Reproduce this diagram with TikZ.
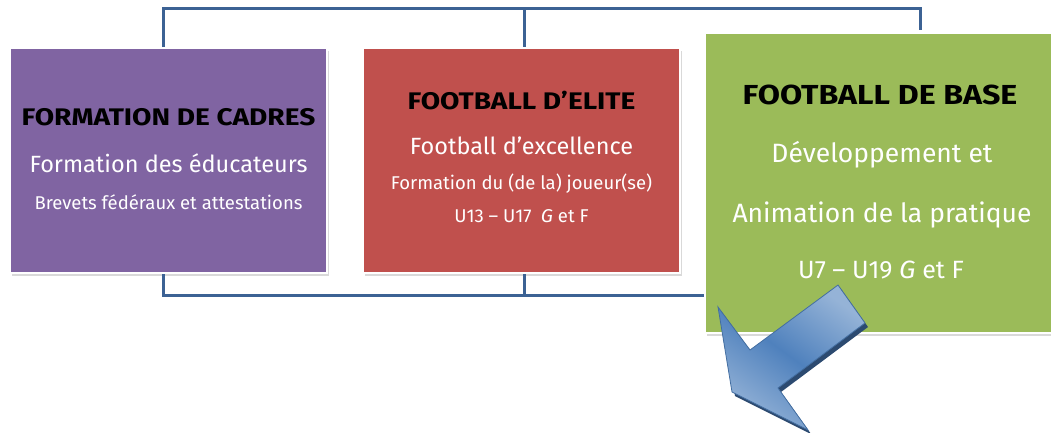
\documentclass[tikz,border=0pt]{standalone}
\usepackage{fontspec}
\setmainfont{Fira Sans}[BoldFeatures={FakeStretch=1.17}, ItalicFeatures={FakeStretch=1.05}]
\usetikzlibrary{shadows}
\definecolor{cadreviolet}{HTML}{8064A2}
\definecolor{eliterouge}{HTML}{C0504D}
\definecolor{basevert}{HTML}{9BBB59}
\definecolor{lienbleu}{HTML}{3C6294}
\definecolor{flechebleu}{HTML}{4F81BD}
\definecolor{flecheclair}{HTML}{95B3D7}
\definecolor{flechesombre}{HTML}{2C4A70}

\tikzset{
  carte/.style={draw=white, line width=2pt, inner sep=0pt,
    drop shadow={shadow xshift=1.5pt, shadow yshift=-3pt, opacity=0.3}},
  lien/.style={draw=lienbleu, line width=3pt},
  titre/.style={font=\bfseries\fontsize{24}{27}\selectfont, text=black},
  soustitre/.style={font=\fontsize{23.5}{27}\selectfont, text=white},
  detail/.style={font=\fontsize{18.5}{21}\selectfont, text=white}
}

\begin{document}
\begin{tikzpicture}[x=1pt,y=-1pt]
  \useasboundingbox (0,0) rectangle (1051,432);

  \coordinate (h1) at (163,8);
  \coordinate (h2) at (524,8);
  \coordinate (h3) at (920,8);
  \coordinate (b1) at (163,295);
  \coordinate (b2) at (524,295);
  \coordinate (b3) at (710,295);

  \node[carte, fill=cadreviolet, minimum width=317pt, minimum height=225pt] (cadres) at (168.5,160.5) {};
  \node[carte, fill=eliterouge, minimum width=317pt, minimum height=225pt] (elite) at (521.5,160.5) {};

  \draw[lien] (h1 |- cadres.north) -- (h1) -- (h3) -- ++(0,22);
  \draw[lien] (h2) -- (h2 |- elite.north);
  \draw[lien] (h1 |- cadres.south) -- (b1) -- (b3);
  \draw[lien] (b2) -- (b2 |- elite.south);

  \node[carte, fill=basevert, minimum width=360pt, minimum height=300pt] (base) at (885,183) {};

  \node[titre] (cadrest) at (168.5,117) {FORMATION DE CADRES};
  \node[soustitre] (cadress) at (168.5,163) {Formation des éducateurs};
  \node[detail] (cadresd) at (168.5,202) {Brevets fédéraux et attestations};

  \node[titre] (elitet) at (521.5,101) {FOOTBALL D’ELITE};
  \node[soustitre] (elites) at (521.5,146) {Football d’excellence};
  \node[detail] (elited) at (521.5,184) {Formation du (de la) joueur(se)};
  \node[detail] (eliteu) at (521.5,216) {U13 – U17\enspace\textit{G} et F};

  \node[titre, font=\bfseries\fontsize{27.5}{31}\selectfont] (baset) at (880,95) {FOOTBALL DE BASE};
  \node[soustitre, font=\fontsize{26.5}{30}\selectfont] (bases) at (882,155) {Développement et};
  \node[soustitre, font=\fontsize{26.5}{30}\selectfont] (basea) at (882,215) {Animation de la pratique};
  \node[soustitre, font=\fontsize{25}{28}\selectfont] (baseu) at (881,270) {U7 – U19 \textit{G} et F};

  % fleche
  \fill[flechesombre] (721,311) -- (753,354) -- (841,289) -- (868,327) -- (781,392) -- (811,434) -- (735,396) -- cycle;
  \shade[top color=flecheclair, bottom color=flecheclair, middle color=flechebleu, shading angle=-36, draw=flechebleu!85!black, line width=0.8pt]
    (718,307) -- (750,350) -- (838,285) -- (865,323) -- (778,388) -- (808,430) -- (732,392) -- cycle;
\end{tikzpicture}
\end{document}
